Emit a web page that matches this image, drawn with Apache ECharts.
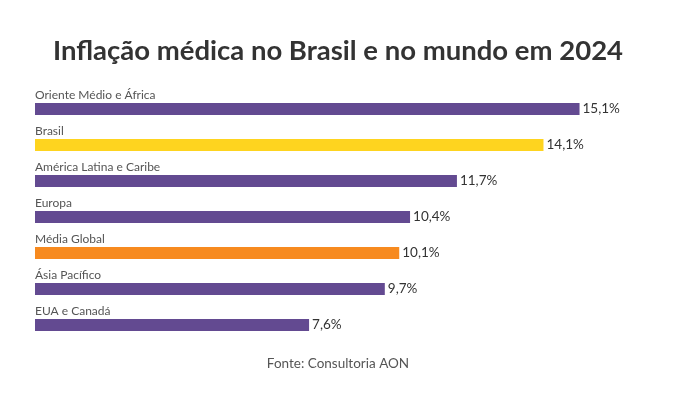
<!DOCTYPE html>
<html><head><meta charset="utf-8">
<script src="https://cdn.jsdelivr.net/npm/echarts@6/dist/echarts.min.js"></script>
<style>html,body{margin:0;padding:0;background:#fff}#c{width:676px;height:393px}</style>
</head><body><div id="c"></div>
<script>
const categories = ["Oriente Médio e África","Brasil","América Latina e Caribe","Europa","Média Global","Ásia Pacífico","EUA e Canadá"];
const values = [15.1,14.1,11.7,10.4,10.1,9.7,7.6];
const barColors = ["#634A91","#FED41F","#634A91","#634A91","#F78A1F","#634A91","#634A91"];
const titleText = "Inflação médica no Brasil e no mundo em 2024";
const sourceText = "Fonte: Consultoria AON";

const font = "Lato, 'Noto Sans', sans-serif";
const chart = echarts.init(document.getElementById('c'));
chart.setOption({
  animation:false,
  backgroundColor:'#fff',
  title:[{text:titleText,left:'center',top:32,textStyle:{fontFamily:font,fontWeight:'bold',fontSize:27.5,color:'#333'}},
         {text:sourceText,left:'center',top:352,textStyle:{fontFamily:font,fontWeight:'normal',fontSize:13.5,color:'#555'}}],
  grid:{left:35,right:64,top:91,bottom:50},
  xAxis:{type:'value',min:0,max:16,show:false},
  yAxis:{type:'category',data:categories,inverse:true,show:false},
  series:[
    {type:'bar',barWidth:12,data:values.map((v,i)=>({value:v,itemStyle:{color:barColors[i]}})),
     label:{show:true,position:'right',distance:3,fontFamily:font,fontSize:13.5,color:'#333',
       formatter:p=>p.value.toFixed(1).replace('.',',')+'%'}},
    {type:'bar',barWidth:12,barGap:'-100%',data:values,itemStyle:{color:'rgba(0,0,0,0)'},silent:true,
     label:{show:true,position:[0,-2],align:'left',verticalAlign:'bottom',fontFamily:font,fontSize:12,color:'#555',formatter:'{b}'}}
  ]
});
</script></body></html>
